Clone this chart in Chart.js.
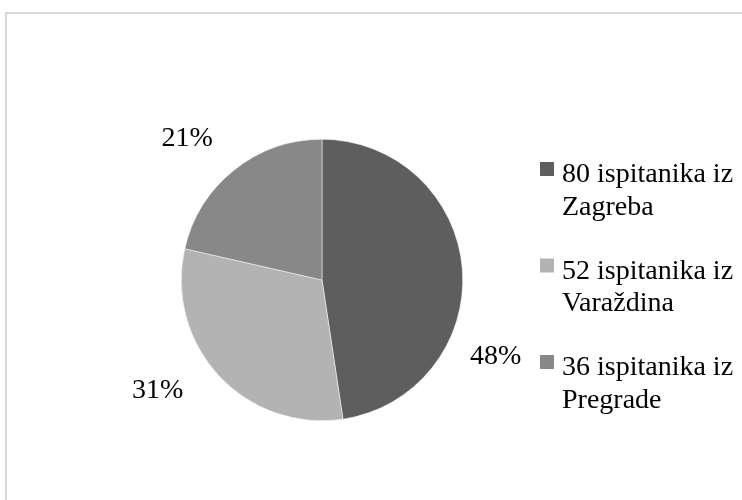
<!DOCTYPE html>
<html>
<head>
<meta charset="utf-8">
<script src="https://cdn.jsdelivr.net/npm/chart.js@4"></script>
<style>
    html, body { margin: 0; padding: 0; background: #fff; overflow: hidden; }
    #wrap { position: relative; width: 742px; height: 500px; }
    #frame { position: absolute; left: 5px; top: 12px; width: 800px; height: 560px; border: 2px solid #d9d9d9; box-sizing: border-box; }
    #pie { position: absolute; left: 0; top: 0; }
</style>
</head>
<body>
<div id="wrap">
    <div id="frame"></div>
    <canvas id="pie" width="742" height="500"></canvas>
</div>
<script>
// Podaci -------------------------------------------------------------------------------------------------------------
var labels = [
    ['80 ispitanika iz', 'Zagreba'],
    ['52 ispitanika iz', 'Varaždina'],
    ['36 ispitanika iz', 'Pregrade'],
];
var counts = [80, 52, 36];
var colors = ['#5e5e5e', '#b3b3b3', '#888888'];

// pomak oznaka postotka (kut u stupnjevima, udaljenost od ruba)
var labelShift = [28, 9, -5];
var labelGap = [49, 57, 55];

var font = '28px "Liberation Serif", "Times New Roman", serif';

var pctLabels = {
    id: 'pctLabels',
    afterDraw: function (chart) {
        var ctx = chart.ctx;
        var meta = chart.getDatasetMeta(0);
        var data = chart.data.datasets[0].data;
        var total = data.reduce(function (a, b) { return a + b; }, 0);
        ctx.save();
        ctx.font = font;
        ctx.fillStyle = '#000';
        ctx.textAlign = 'center';
        ctx.textBaseline = 'middle';
        meta.data.forEach(function (arc, i) {
            var p = arc.getProps(['x', 'y', 'startAngle', 'endAngle', 'outerRadius'], true);
            var a = (p.startAngle + p.endAngle) / 2 + labelShift[i] * Math.PI / 180;
            var r = p.outerRadius + labelGap[i];
            var txt = Math.round(data[i] / total * 100) + '%';
            ctx.fillText(txt, p.x + Math.cos(a) * r, p.y + Math.sin(a) * r);
        });
        ctx.restore();
    }
};

var sideLegend = {
    id: 'sideLegend',
    afterDraw: function (chart) {
        var ctx = chart.ctx;
        var ds = chart.data.datasets[0];
        var x0 = 540, y0 = 182, lineH = 32.5, step = 96.5;
        ctx.save();
        ctx.font = font;
        ctx.textBaseline = 'alphabetic';
        ctx.textAlign = 'left';
        chart.data.labels.forEach(function (lbl, i) {
            var y = y0 + i * step;
            ctx.fillStyle = ds.backgroundColor[i];
            ctx.fillRect(x0, y - 20, 14, 14);
            ctx.fillStyle = '#000';
            lbl.forEach(function (line, j) {
                ctx.fillText(line, x0 + 22, y + j * lineH);
            });
        });
        ctx.restore();
    }
};

var pieCanvas = document.getElementById('pie').getContext('2d');
var pieChart = new Chart(pieCanvas, {
    type: 'pie',
    data: {
        labels: labels,
        datasets: [
            {
                data: counts,
                backgroundColor: colors,
                borderColor: '#ffffff',
                borderWidth: 0.5,
            }
        ]
    },
    options: {
        responsive: false,
        animation: false,
        layout: {
            padding: { left: 181, right: 279, top: 139, bottom: 79 }
        },
        plugins: {
            legend: { display: false },
            tooltip: { enabled: false },
        }
    },
    plugins: [pctLabels, sideLegend]
});
</script>
</body>
</html>
